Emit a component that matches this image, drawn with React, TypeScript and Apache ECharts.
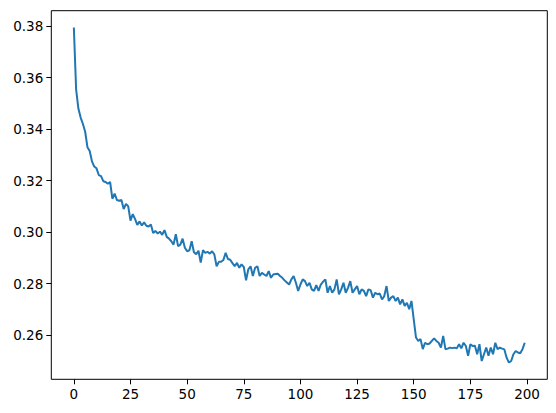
import React, { useEffect, useRef } from "react";
import * as echarts from "echarts";

const values: number[] = [
  0.3795, 0.3555, 0.3480, 0.3445, 0.3420, 0.3390, 0.3330, 0.3315, 0.3275, 0.3255,
  0.3248, 0.3222, 0.3218, 0.3198, 0.3195, 0.3188, 0.3195, 0.3130, 0.3150, 0.3125,
  0.3122, 0.3125, 0.3090, 0.3110, 0.3100, 0.3045, 0.3070, 0.3052, 0.3028, 0.3042,
  0.3026, 0.3038, 0.3025, 0.3022, 0.3030, 0.2997, 0.3005, 0.2995, 0.3002, 0.2990,
  0.3008, 0.2982, 0.2975, 0.2965, 0.2952, 0.2992, 0.2946, 0.2952, 0.2975, 0.2940,
  0.2926, 0.2930, 0.2965, 0.2922, 0.2915, 0.2928, 0.2882, 0.2930, 0.2920, 0.2924,
  0.2917, 0.2926, 0.2914, 0.2868, 0.2885, 0.2885, 0.2892, 0.2920, 0.2896, 0.2893,
  0.2880, 0.2868, 0.2881, 0.2862, 0.2875, 0.2865, 0.2813, 0.2856, 0.2868, 0.2830,
  0.2862, 0.2868, 0.2830, 0.2842, 0.2836, 0.2830, 0.2849, 0.2823, 0.2836, 0.2838,
  0.2839, 0.2830, 0.2823, 0.2813, 0.2805, 0.2797, 0.2817, 0.2830, 0.2804, 0.2772,
  0.2797, 0.2817, 0.2810, 0.2791, 0.2804, 0.2778, 0.2772, 0.2795, 0.2772, 0.2797,
  0.2808, 0.2817, 0.2765, 0.2791, 0.2765, 0.2778, 0.2817, 0.2759, 0.2778, 0.2804,
  0.2765, 0.2784, 0.2810, 0.2765, 0.2778, 0.2791, 0.2759, 0.2778, 0.2772, 0.2752,
  0.2778, 0.2775, 0.2746, 0.2765, 0.2759, 0.2762, 0.2739, 0.2752, 0.2791, 0.2733,
  0.2746, 0.2752, 0.2733, 0.2746, 0.2720, 0.2739, 0.2714, 0.2726, 0.2701, 0.2733,
  0.2662, 0.2591, 0.2578, 0.2585, 0.2546, 0.2571, 0.2565, 0.2568, 0.2578, 0.2588,
  0.2578, 0.2571, 0.2552, 0.2597, 0.2546, 0.2548, 0.2552, 0.2550, 0.2552, 0.2549,
  0.2565, 0.2549, 0.2571, 0.2558, 0.2520, 0.2565, 0.2558, 0.2559, 0.2526, 0.2565,
  0.2500, 0.2526, 0.2552, 0.2520, 0.2552, 0.2526, 0.2571, 0.2546, 0.2552, 0.2548,
  0.2545, 0.2513, 0.2494, 0.2500, 0.2526, 0.2539, 0.2533, 0.2530, 0.2546, 0.2571,
];

const xTicks: number[] = [0, 25, 50, 75, 100, 125, 150, 175, 200];
const yTicks: number[] = [0.26, 0.28, 0.3, 0.32, 0.34, 0.36, 0.38];

export default function App() {
  const ref = useRef<HTMLDivElement>(null);
  useEffect(() => {
    if (!ref.current) return;
    const chart = echarts.init(ref.current, null, { renderer: "svg" });
    const n = values.length;
    const xPad = (n - 1) * 0.05;
    const yMin = Math.min(...values);
    const yMax = Math.max(...values);
    const yPad = (yMax - yMin) * 0.05;
    const font = { fontFamily: "DejaVu Sans", fontSize: 13.5, color: "#000" };
    chart.setOption({
      animation: false,
      backgroundColor: "#fff",
      grid: {
        left: 51.3,
        right: 8.7,
        top: 10.7,
        bottom: 33.7,
        show: true,
        borderColor: "#000",
        borderWidth: 1,
        backgroundColor: "transparent",
      },
      xAxis: {
        type: "value",
        position: "bottom",
        min: -xPad,
        max: n - 1 + xPad,
        splitLine: { show: false },
        axisLine: { show: false, onZero: false },
        axisTick: {
          show: true,
          length: 5,
          inside: false,
          lineStyle: { color: "#000", width: 1 },
          customValues: xTicks,
        },
        axisLabel: {
          ...font,
          margin: 8,
          customValues: xTicks,
          formatter: (v: number) => String(v),
        },
      },
      yAxis: {
        type: "value",
        position: "left",
        min: yMin - yPad,
        max: yMax + yPad,
        splitLine: { show: false },
        axisLine: { show: false, onZero: false },
        axisTick: {
          show: true,
          length: 5,
          inside: false,
          lineStyle: { color: "#000", width: 1 },
          customValues: yTicks,
        },
        axisLabel: {
          ...font,
          margin: 8,
          customValues: yTicks,
          formatter: (v: number) => v.toFixed(2),
        },
      },
      series: [
        {
          type: "line",
          data: values.map((v, i) => [i, v]),
          showSymbol: false,
          symbol: "none",
          lineStyle: { color: "#1f77b4", width: 2 },
          itemStyle: { color: "#1f77b4" },
        },
      ],
    });
    return () => chart.dispose();
  }, []);
  return (
    <div
      ref={ref}
      style={{ position: "fixed", left: 0, top: 0, width: 556, height: 413 }}
    />
  );
}
